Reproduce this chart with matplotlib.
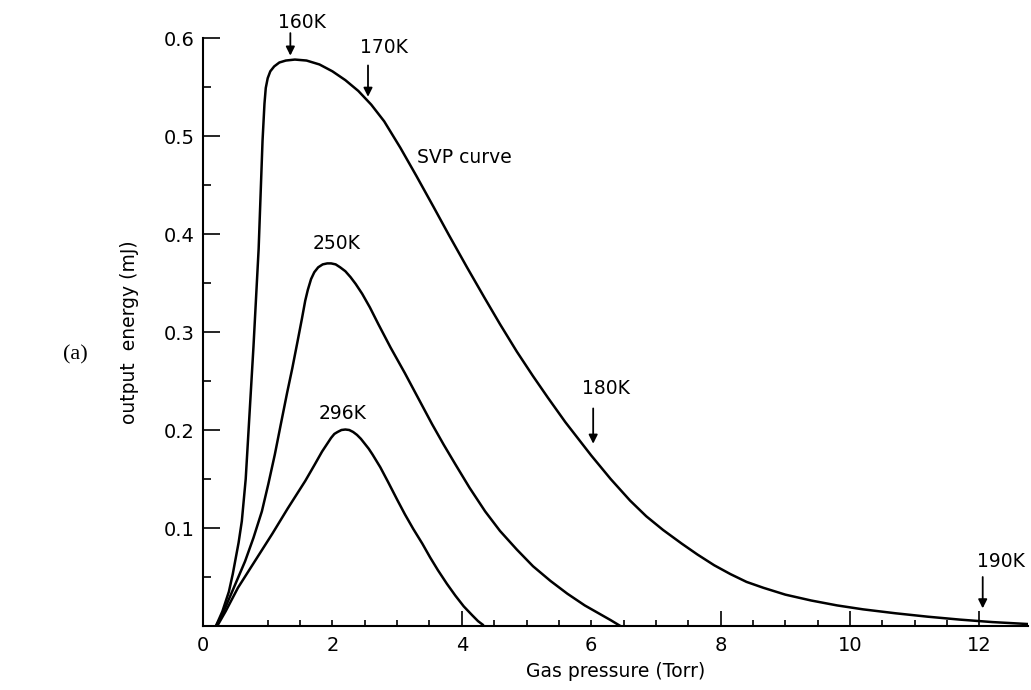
import matplotlib
matplotlib.use("Agg")
import matplotlib.pyplot as plt

# ---- data ----
svp_x = [0.20, 0.30, 0.40, 0.46, 0.55, 0.60, 0.66, 0.70, 0.74, 0.78, 0.82, 0.86, 0.89, 0.92,
         0.95, 0.97, 1.00, 1.04, 1.10, 1.18, 1.28, 1.42, 1.60, 1.80, 2.00, 2.20, 2.40, 2.60,
         2.80, 3.05, 3.30, 3.56, 3.80, 4.08, 4.35, 4.59, 4.85, 5.10, 5.33, 5.60, 6.00, 6.30,
         6.60, 6.85, 7.11, 7.40, 7.64, 7.90, 8.15, 8.40, 8.66, 9.00, 9.40, 9.80, 10.2, 10.7,
         11.2, 11.7, 12.2, 12.75]
svp_y = [0.000, 0.015, 0.035, 0.053, 0.085, 0.107, 0.150, 0.195, 0.240, 0.285, 0.335, 0.385,
         0.440, 0.495, 0.533, 0.549, 0.559, 0.566, 0.571, 0.575, 0.577, 0.578, 0.577, 0.573,
         0.566, 0.557, 0.546, 0.532, 0.515, 0.488, 0.459, 0.428, 0.399, 0.366, 0.335, 0.308,
         0.280, 0.255, 0.233, 0.208, 0.174, 0.150, 0.128, 0.112, 0.098, 0.084, 0.073, 0.062,
         0.053, 0.045, 0.039, 0.032, 0.026, 0.021, 0.017, 0.013, 0.0095, 0.0065, 0.004, 0.002]

k250_x = [0.20, 0.30, 0.45, 0.65, 0.78, 0.91, 1.01, 1.11, 1.20, 1.30, 1.38, 1.46, 1.53, 1.58,
          1.62, 1.67, 1.72, 1.78, 1.85, 1.92, 1.98, 2.05, 2.12, 2.20, 2.28, 2.36, 2.46, 2.58,
          2.71, 2.90, 3.12, 3.33, 3.54, 3.72, 3.90, 4.12, 4.36, 4.59, 4.85, 5.10, 5.37, 5.63,
          5.90, 6.14, 6.30, 6.45]
k250_y = [0.000, 0.012, 0.035, 0.066, 0.090, 0.117, 0.145, 0.175, 0.205, 0.238, 0.263, 0.290,
          0.314, 0.332, 0.343, 0.354, 0.361, 0.366, 0.369, 0.370, 0.370, 0.369, 0.366, 0.362,
          0.356, 0.349, 0.339, 0.325, 0.308, 0.284, 0.258, 0.232, 0.206, 0.185, 0.165, 0.141,
          0.117, 0.097, 0.078, 0.061, 0.046, 0.033, 0.021, 0.012, 0.006, 0.000]

k296_x = [0.22, 0.35, 0.54, 0.80, 1.07, 1.31, 1.58, 1.72, 1.84, 1.93, 1.98, 2.03, 2.08, 2.14,
          2.20, 2.26, 2.32, 2.38, 2.44, 2.50, 2.56, 2.62, 2.74, 2.86, 3.00, 3.12, 3.25, 3.39,
          3.51, 3.63, 3.77, 3.90, 4.03, 4.16, 4.25, 4.33]
k296_y = [0.000, 0.015, 0.039, 0.066, 0.094, 0.120, 0.148, 0.164, 0.178, 0.187, 0.192, 0.196,
          0.198, 0.200, 0.2005, 0.200, 0.198, 0.195, 0.191, 0.186, 0.181, 0.175, 0.162, 0.147,
          0.129, 0.114, 0.099, 0.084, 0.070, 0.057, 0.043, 0.031, 0.020, 0.011, 0.005, 0.001]

x_major = [0, 2, 4, 6, 8, 10, 12]
x_minor = [1, 1.5, 2.5, 3, 3.5, 4.5, 5, 5.5, 6.5, 7, 7.5, 8.5, 9, 9.5, 10.5, 11, 11.5]
y_major = [0.1, 0.2, 0.3, 0.4, 0.5, 0.6]
y_minor = [0.05, 0.15, 0.25, 0.35, 0.45, 0.55]

# temperature markers: label, arrow x, arrow tail y, arrow tip y, label x, label y
temp_labels = ["160K", "170K", "180K", "190K"]
temp_arrow_x = [1.35, 2.55, 6.03, 12.05]
temp_arrow_tail = [0.605, 0.572, 0.222, 0.050]
temp_arrow_tip = [0.582, 0.540, 0.186, 0.018]
temp_label_x = [1.53, 2.79, 6.23, 12.33]
temp_label_y = [0.616, 0.590, 0.242, 0.066]

curve_labels = ["SVP curve", "250K", "296K"]
curve_label_x = [3.31, 2.07, 2.15]
curve_label_y = [0.478, 0.390, 0.217]
curve_label_ha = ["left", "center", "center"]

# ---- figure ----
fig = plt.figure(figsize=(10.31, 6.90), dpi=100)
ax = fig.add_axes([203 / 1031, 1 - 626 / 690, (1028 - 203) / 1031, (626 - 38) / 690])

lw = 1.8
for xs, ys in [(svp_x, svp_y), (k250_x, k250_y), (k296_x, k296_y)]:
    ax.plot(xs, ys, color="black", lw=lw, solid_joinstyle="round", solid_capstyle="round")

ax.set_xlim(0, 12.75)
ax.set_ylim(0, 0.6)

for s in ["top", "right"]:
    ax.spines[s].set_visible(False)
for s in ["left", "bottom"]:
    ax.spines[s].set_linewidth(1.5)

ax.set_xticks(x_major)
ax.set_xticklabels([str(v) for v in x_major])
ax.set_xticks(x_minor, minor=True)
ax.set_yticks(y_major)
ax.set_yticklabels([f"{v:.1f}" for v in y_major])
ax.set_yticks(y_minor, minor=True)

ax.tick_params(axis="x", which="major", direction="in", length=11, width=1.2, pad=7, labelsize=14)
ax.tick_params(axis="x", which="minor", direction="in", length=4.5, width=1.2)
ax.tick_params(axis="y", which="major", direction="in", length=12, width=1.2, pad=6, labelsize=14)
ax.tick_params(axis="y", which="minor", direction="in", length=5.5, width=1.2)

# short major ticks at 0, 2 and 6 as in the reference
for i, t in enumerate(ax.xaxis.get_major_ticks()):
    if x_major[i] in (0, 2, 6):
        t.tick1line.set_markersize(4.5)

ax.set_xlabel("Gas pressure (Torr)", fontsize=13.5, labelpad=5)
ax.set_ylabel("output  energy (mJ)", fontsize=13.5)
ax.yaxis.set_label_coords(-0.078, 0.5)

for lab, x, y, ha in zip(curve_labels, curve_label_x, curve_label_y, curve_label_ha):
    ax.text(x, y, lab, fontsize=13.5, ha=ha, va="center")

for lab, ax_x, t0, t1, lx, ly in zip(temp_labels, temp_arrow_x, temp_arrow_tail, temp_arrow_tip,
                                       temp_label_x, temp_label_y):
    ax.annotate("", xy=(ax_x, t1), xytext=(ax_x, t0),
                arrowprops=dict(arrowstyle="-|>", color="black", lw=1.3,
                                mutation_scale=13, shrinkA=0, shrinkB=0),
                annotation_clip=False)
    ax.text(lx, ly, lab, fontsize=13.5, ha="center", va="center", clip_on=False)

fig.text(75 / 1031, 1 - 355 / 690, "(a)", fontsize=16, family="Liberation Serif",
         ha="center", va="center")

fig.savefig("out.png", dpi=100)
